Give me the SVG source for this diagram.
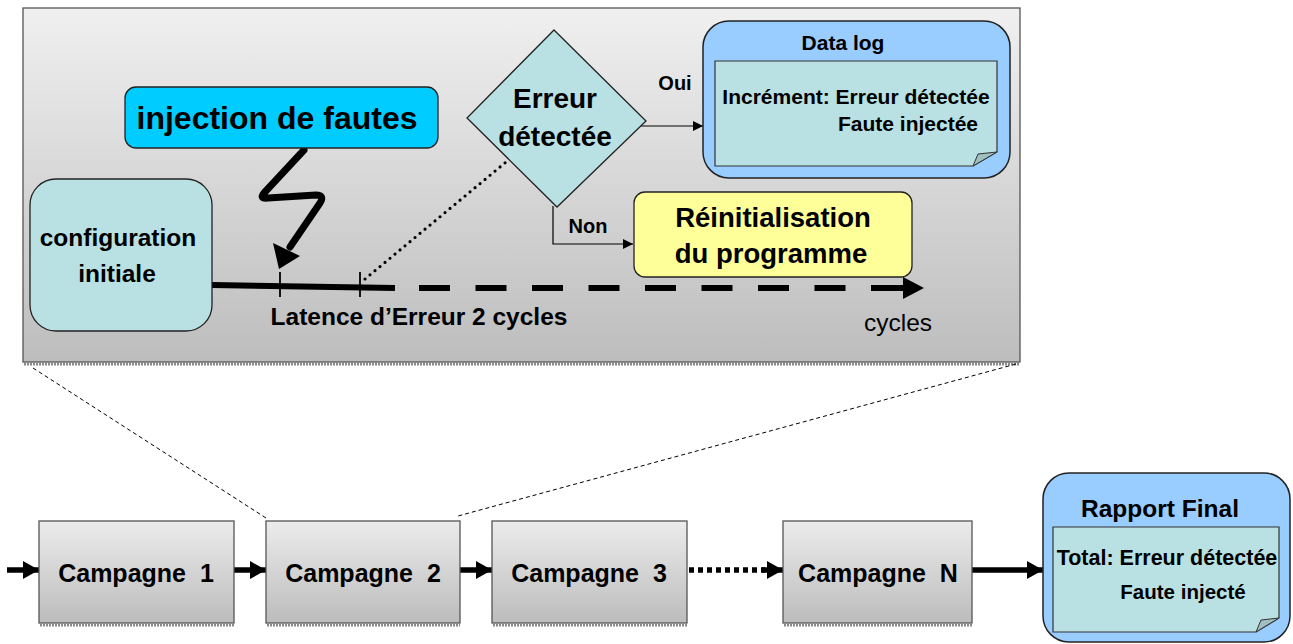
<svg xmlns="http://www.w3.org/2000/svg" width="1293" height="644" viewBox="0 0 1293 644">
<defs>
<linearGradient id="gPanel" x1="0" y1="0" x2="0" y2="1">
<stop offset="0" stop-color="#f0f0f0"/><stop offset="1" stop-color="#bdbdbd"/>
</linearGradient>
<linearGradient id="gBox" x1="0" y1="0" x2="0" y2="1">
<stop offset="0" stop-color="#ececec"/><stop offset="1" stop-color="#bcbcbc"/>
</linearGradient>
<marker id="aThin" viewBox="0 0 10 10" refX="10" refY="5" markerWidth="10" markerHeight="10" markerUnits="userSpaceOnUse" orient="auto">
<path d="M0,0 L10,5 L0,10 Z" fill="#000"/>
</marker>
<marker id="aThick" viewBox="0 0 10 10" refX="10" refY="5" markerWidth="16" markerHeight="18" markerUnits="userSpaceOnUse" orient="auto" preserveAspectRatio="none">
<path d="M0,0 L10,5 L0,10 Z" fill="#000"/>
</marker>
</defs>
<style>
text{font-family:"Liberation Sans",Arial,sans-serif;font-weight:bold;fill:#000;text-anchor:middle}
.note{fill:#b9e0e2;stroke:#333;stroke-width:1.2}
.outer{fill:#99ccff;stroke:#222;stroke-width:1.5}
.camp{fill:url(#gBox);stroke:#555;stroke-width:1.3}
.shadow{stroke:#8a8a8a;stroke-width:3;stroke-dasharray:2 1}
.thick{stroke:#000;stroke-width:5.5;fill:none}
.thin{stroke:#000;stroke-width:1.2;fill:none}
.zoom{stroke:#000;stroke-width:1;stroke-dasharray:4 3;fill:none}
</style>

<g id="panel">
<rect x="23" y="8" width="997" height="354" fill="url(#gPanel)" stroke="#555" stroke-width="1.3"/>
<line x1="24" y1="364" x2="1020" y2="364" class="shadow"/>
</g>

<g id="connectors">
<line x1="33" y1="368" x2="266" y2="518" class="zoom"/>
<line x1="1016" y1="364" x2="458" y2="516" class="zoom"/>
<path d="M212,285 L395,288" stroke="#000" stroke-width="6" fill="none"/>
<line x1="419" y1="288" x2="905" y2="288" stroke="#000" stroke-width="6" stroke-dasharray="31 25.5"/>
<path d="M875,288 L905,288" stroke="#000" stroke-width="6"/>
<path d="M903,277 L924,288 L903,299 Z" fill="#000"/>
<line x1="280" y1="272" x2="280" y2="297" stroke="#000" stroke-width="1.8"/>
<line x1="360" y1="272" x2="360" y2="297" stroke="#000" stroke-width="1.8"/>
<path d="M304,150 L264,193 Q259,199 268,198 L316,195 Q325,195 320,203 L290,247" stroke="#000" stroke-width="7" fill="none" stroke-linejoin="round" stroke-linecap="round"/>
<path d="M273,243 L300,256 L279,269 Z" fill="#000"/>
<line x1="365" y1="279" x2="506" y2="162" stroke="#000" stroke-width="3.2" stroke-dasharray="0 6.5" stroke-linecap="round"/>
<line x1="640" y1="126" x2="703" y2="126" class="thin" marker-end="url(#aThin)"/>
<path d="M553,206 L553,244 L633,244" class="thin" marker-end="url(#aThin)"/>
<line x1="7" y1="570" x2="39" y2="570" class="thick" marker-end="url(#aThick)"/>
<line x1="234" y1="570" x2="266" y2="570" class="thick" marker-end="url(#aThick)"/>
<line x1="460" y1="570" x2="492" y2="570" class="thick" marker-end="url(#aThick)"/>
<line x1="689" y1="570" x2="765" y2="570" stroke="#000" stroke-width="5.5" stroke-dasharray="5 4"/>
<line x1="762" y1="570" x2="783" y2="570" class="thick" marker-end="url(#aThick)"/>
<line x1="972" y1="570" x2="1043" y2="570" class="thick" marker-end="url(#aThick)"/>
</g>

<g id="injection">
<rect x="125" y="87" width="313" height="61" rx="11" fill="#00ccff" stroke="#222" stroke-width="1.3"/>
<text x="277" y="129" font-size="32">injection de fautes</text>
</g>

<g id="config">
<rect x="30" y="179" width="182" height="152" rx="26" fill="#b9e0e2" stroke="#222" stroke-width="1.3"/>
<text x="118" y="246" font-size="24.5">configuration</text>
<text x="117" y="282" font-size="24.5">initiale</text>
</g>

<g id="decision">
<path d="M554,30 L646,121 L557,207 L467,118 Z" fill="#b9e0e2" stroke="#222" stroke-width="1.3"/>
<text x="555" y="108" font-size="28">Erreur</text>
<text x="555" y="146" font-size="28">détectée</text>
<text x="675" y="90" font-size="20">Oui</text>
<text x="588" y="233" font-size="20">Non</text>
</g>

<g id="datalog">
<rect x="703" y="21" width="307" height="157" rx="26" class="outer"/>
<text x="843" y="50" font-size="21">Data log</text>
<path d="M715,61 L997,61 L997,152 L973,166 L715,166 Z" class="note"/>
<path d="M997,152 L973,166 L978,154 Z" fill="#9fbfc0" stroke="#333" stroke-width="1"/>
<text x="856" y="104" font-size="21">Incrément: Erreur détectée</text>
<text x="908" y="131" font-size="21">Faute injectée</text>
</g>

<g id="reinit">
<rect x="634" y="192" width="278" height="85" rx="11" fill="#ffff99" stroke="#222" stroke-width="1.3"/>
<text x="773" y="227" font-size="27.5">Réinitialisation</text>
<text x="771" y="263" font-size="27.5">du programme</text>
</g>

<g id="labels">
<text x="419" y="325" font-size="24.5">Latence d’Erreur 2 cycles</text>
<text x="898" y="331" font-size="24.5" style="font-weight:normal">cycles</text>
</g>

<g id="campagne1">
<rect x="39" y="521" width="195" height="102" class="camp"/>
<line x1="40" y1="625" x2="234" y2="625" class="shadow"/>
<text x="136" y="582" font-size="25">Campagne&#160; 1</text>
</g>
<g id="campagne2">
<rect x="266" y="521" width="194" height="102" class="camp"/>
<line x1="267" y1="625" x2="460" y2="625" class="shadow"/>
<text x="363" y="582" font-size="25">Campagne&#160; 2</text>
</g>
<g id="campagne3">
<rect x="492" y="521" width="195" height="102" class="camp"/>
<line x1="493" y1="625" x2="687" y2="625" class="shadow"/>
<text x="589" y="582" font-size="25">Campagne&#160; 3</text>
</g>
<g id="campagneN">
<rect x="783" y="521" width="189" height="102" class="camp"/>
<line x1="784" y1="625" x2="972" y2="625" class="shadow"/>
<text x="878" y="582" font-size="25">Campagne&#160; N</text>
</g>

<g id="rapport">
<rect x="1043" y="473" width="247" height="169" rx="26" class="outer"/>
<text x="1160" y="517" font-size="24.5">Rapport Final</text>
<path d="M1053,527 L1279,527 L1279,618 L1256,632 L1053,632 Z" class="note"/>
<path d="M1279,618 L1256,632 L1261,620 Z" fill="#9fbfc0" stroke="#333" stroke-width="1"/>
<text x="1167" y="565" font-size="21.5">Total: Erreur détectée</text>
<text x="1183" y="599" font-size="20.5">Faute injecté</text>
</g>
</svg>
